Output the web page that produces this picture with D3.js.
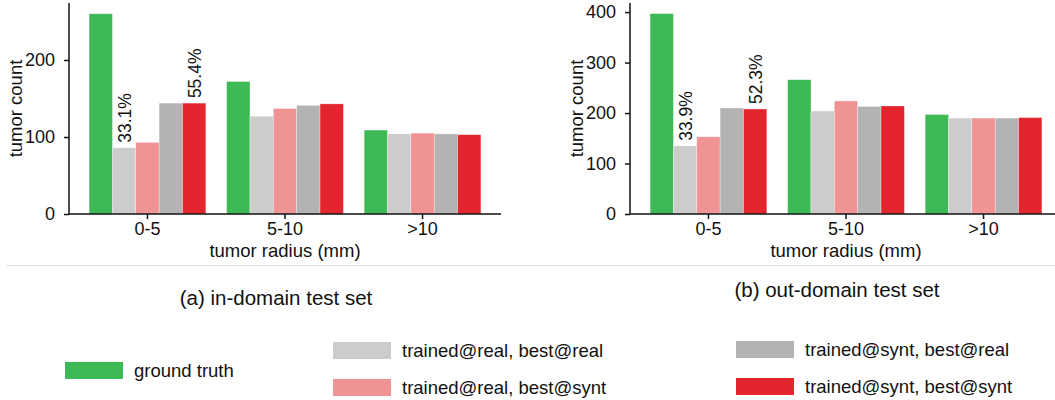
<!DOCTYPE html>
<meta charset="utf-8">
<style>
	body { margin: 0; background: white; }
	svg text { font-family: "Liberation Sans", Arial, sans-serif; fill: #111; }
	.axis path, .axis line { stroke: #111; stroke-width: 1.5; }
	.axis text { font-size: 18px; fill: #111; }
</style>
<body>
<svg id="chart" width="1055" height="400"></svg>
</body>
<script src="https://d3js.org/d3.v7.min.js"></script>
<script>
	// categories and series
	var radii = ["0-5", "5-10", ">10"];
	var seriesNames = ["ground truth", "trained@real, best@real", "trained@real, best@synt",
		"trained@synt, best@real", "trained@synt, best@synt"];
	var seriesColors = ["#3dba55", "#cccccc", "#f09395", "#b3b3b3", "#e3262d"];

	// in-domain counts, one array per series (order follows radii)
	var inTruth    = [260, 172, 109];
	var inRealReal = [86, 127, 104];
	var inRealSynt = [93, 137, 105];
	var inSyntReal = [144, 141, 104];
	var inSyntSynt = [144, 143, 103];

	// out-domain counts
	var outTruth    = [397, 266, 197];
	var outRealReal = [135, 204, 190];
	var outRealSynt = [153, 224, 190];
	var outSyntReal = [210, 213, 190];
	var outSyntSynt = [208, 214, 191];

	var inTicks = [0, 100, 200];
	var outTicks = [0, 100, 200, 300, 400];

	var panels = [
		{ left: 69, yMax: 274, ticks: inTicks, caption: "(a) in-domain test set", capY: 305,
		  series: [inTruth, inRealReal, inRealSynt, inSyntReal, inSyntSynt],
		  labels: [{ s: 1, text: "33.1%" }, { s: 4, text: "55.4%" }] },
		{ left: 630, yMax: 418, ticks: outTicks, caption: "(b) out-domain test set", capY: 297,
		  series: [outTruth, outRealReal, outRealSynt, outSyntReal, outSyntSynt],
		  labels: [{ s: 1, text: "33.9%" }, { s: 4, text: "52.3%" }] }
	];

	var svg = d3.select("#chart");
	var plotW = 432, plotTop = 3, plotBottom = 214;

	panels.forEach(function(p) {
		var g = svg.append("g").attr("transform", "translate(" + p.left + ",0)");

		var x0 = d3.scaleBand().domain(radii).range([0, plotW])
			.paddingInner(0.151).paddingOuter(0.146);
		var x1 = d3.scaleBand().domain(d3.range(seriesNames.length)).range([0, x0.bandwidth()]);
		var y = d3.scaleLinear().domain([0, p.yMax]).range([plotBottom, plotTop]);

		// bars
		p.series.forEach(function(vals, s) {
			g.append("g").selectAll("rect")
				.data(vals)
				.enter()
				.append("rect")
				.attr("x", function(d, i) { return x0(radii[i]) + x1(s); })
				.attr("y", function(d) { return y(d); })
				.attr("width", x1.bandwidth())
				.attr("height", function(d) { return plotBottom - y(d); })
				.attr("fill", seriesColors[s])
				.attr("stroke", "white")
				.attr("stroke-opacity", 0.5)
				.attr("stroke-width", 0.6);
		});

		// percent labels on the 0-5 group
		p.labels.forEach(function(l) {
			var v = p.series[l.s][0];
			var cx = x0(radii[0]) + x1(l.s) + x1.bandwidth() / 2;
			g.append("text")
				.attr("transform", "translate(" + (cx + 1) + "," + (y(v) - 5) + ") rotate(-90)")
				.attr("dominant-baseline", "central")
				.style("font-size", "17.5px")
				.text(l.text);
		});

		// axes
		var yAxis = d3.axisLeft(y).tickValues(p.ticks).tickSize(5).tickPadding(9);
		var ya = g.append("g").attr("class", "axis").call(yAxis);
		ya.select(".domain").attr("d", "M0," + plotTop + "V" + plotBottom);

		var xAxis = d3.axisBottom(x0).tickSize(5).tickPadding(3);
		var xa = g.append("g").attr("class", "axis")
			.attr("transform", "translate(0," + plotBottom + ")").call(xAxis);
		xa.select(".domain").attr("d", "M0,0H" + plotW);

		g.append("text")
			.attr("x", plotW / 2).attr("y", 257)
			.attr("text-anchor", "middle")
			.style("font-size", "18.5px")
			.text("tumor radius (mm)");

		g.append("text")
			.attr("transform", "translate(" + (-54) + "," + ((plotTop + plotBottom) / 2) + ") rotate(-90)")
			.attr("text-anchor", "middle")
			.attr("dominant-baseline", "central")
			.style("font-size", "18.5px")
			.text("tumor count");

		g.append("text")
			.attr("x", plotW / 2 - 9).attr("y", p.capY)
			.attr("text-anchor", "middle")
			.style("font-size", "20.5px")
			.text(p.caption);
	});

	// separator line
	svg.append("line")
		.attr("x1", 6).attr("x2", 1055).attr("y1", 265.5).attr("y2", 265.5)
		.attr("stroke", "#dddddd").attr("stroke-width", 1);

	// legend
	var legendPos = [
		{ x: 65, y: 362 },
		{ x: 333, y: 342 },
		{ x: 333, y: 379 },
		{ x: 736, y: 341 },
		{ x: 736, y: 378 }
	];
	var legend = svg.append("g").selectAll("g")
		.data(seriesNames)
		.enter()
		.append("g")
		.attr("transform", function(d, i) { return "translate(" + legendPos[i].x + "," + legendPos[i].y + ")"; });

	legend.append("rect")
		.attr("width", 58).attr("height", 17)
		.attr("fill", function(d, i) { return seriesColors[i]; });

	legend.append("text")
		.attr("x", 69).attr("y", 8.5)
		.attr("dominant-baseline", "central")
		.style("font-size", "18.5px")
		.text(function(d) { return d; });
</script>
